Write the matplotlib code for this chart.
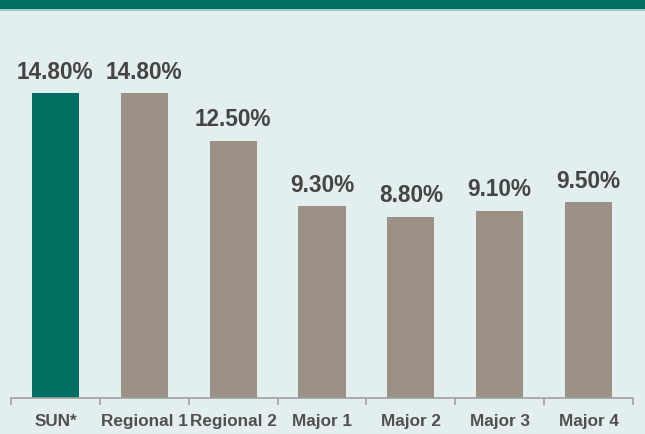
import matplotlib.pyplot as plt
from matplotlib.patches import Rectangle

categories = ["SUN*", "Regional 1", "Regional 2", "Major 1", "Major 2", "Major 3", "Major 4"]
values = [14.8, 14.8, 12.5, 9.3, 8.8, 9.1, 9.5]
labels = ["14.80%", "14.80%", "12.50%", "9.30%", "8.80%", "9.10%", "9.50%"]

bg = "#e3efee"
teal = "#006f61"
taupe = "#9b9187"
text_col = "#454545"

plt.rcParams["font.family"] = ["Liberation Sans", "DejaVu Sans"]

fig = plt.figure(figsize=(6.45, 4.35), dpi=100)
fig.patch.set_facecolor(bg)

# dark band on top
fig.patches.append(Rectangle((0, 1 - 10 / 435), 1, 10 / 435, transform=fig.transFigure,
                             facecolor=teal, edgecolor="none", zorder=0))
fig.patches.append(Rectangle((0, 1 - 11.5 / 435), 1, 1.5 / 435, transform=fig.transFigure,
                             facecolor="#9fcbc4", edgecolor="none", zorder=0))

ax = fig.add_axes([11 / 645, 36 / 435, 622 / 645, 379 / 435])
ax.set_facecolor(bg)

x = list(range(len(categories)))
colors = [teal] + [taupe] * (len(categories) - 1)
ax.bar(x, values, width=0.53, color=colors, zorder=2)

for xi, v, lab in zip(x, values, labels):
    ax.annotate(lab, (xi, v), xytext=(0, 7.5), textcoords="offset points",
                ha="center", va="bottom", fontsize=16.3, fontweight="bold", color=text_col)

ax.set_xlim(-0.5, len(categories) - 0.5)
ax.set_ylim(0, 18.4)

for s in ["top", "right", "left"]:
    ax.spines[s].set_visible(False)
ax.spines["bottom"].set_color("#a0a0a0")
ax.spines["bottom"].set_linewidth(1.2)

ax.set_yticks([])
ax.set_xticks(x)
ax.set_xticklabels(categories, fontsize=12.3, fontweight="bold", color="#505050")
ax.tick_params(axis="x", length=0, pad=10.5)
ax.set_xticks([i - 0.5 for i in range(len(categories) + 1)], minor=True)
ax.tick_params(axis="x", which="minor", length=5, color="#a0a0a0", width=1.2)

fig.savefig("out.png", dpi=100, facecolor=bg)
